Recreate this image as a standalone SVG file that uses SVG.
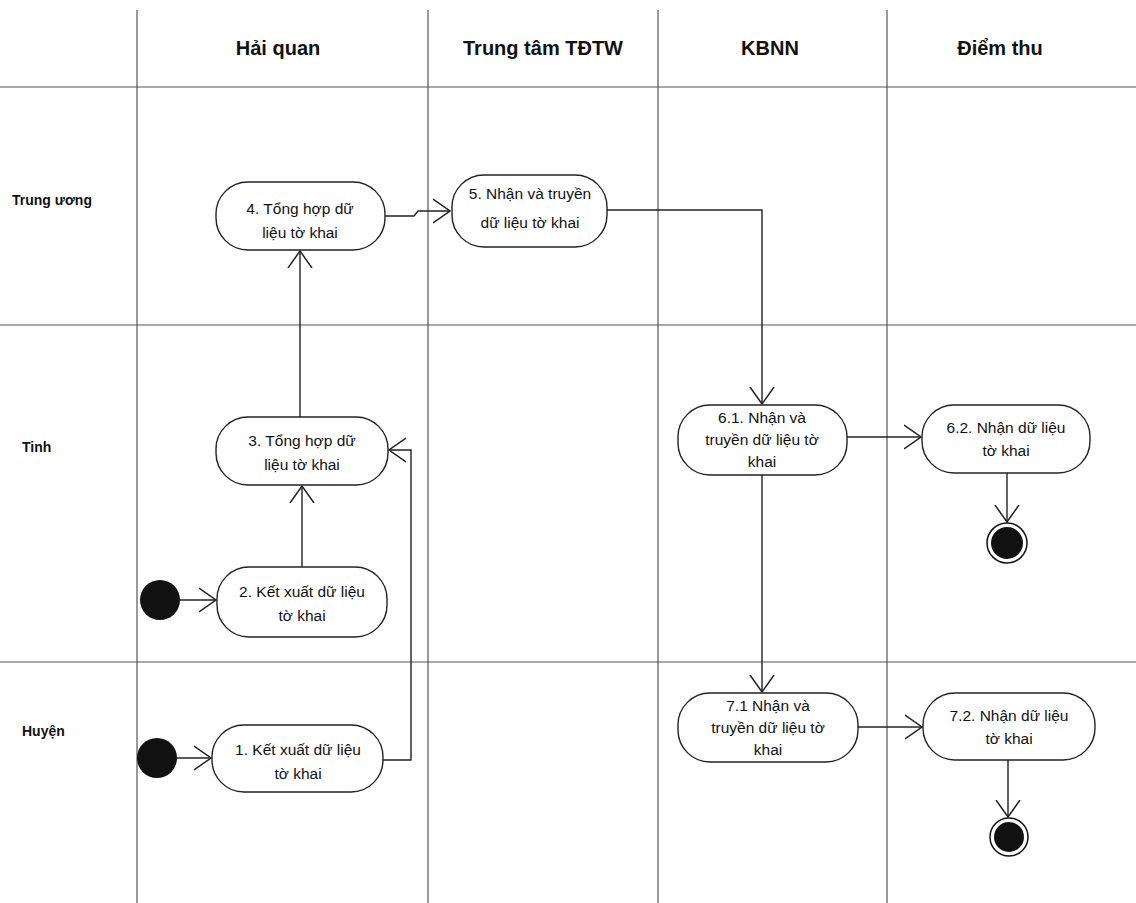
<svg xmlns="http://www.w3.org/2000/svg" width="1136" height="903" viewBox="0 0 1136 903">
<defs>
<style>
.lane{stroke:#555;stroke-width:1.2;fill:none}
.node rect{fill:#fff;stroke:#222;stroke-width:1.4}
.node text{font-family:"Liberation Sans",Arial,sans-serif;font-size:15.5px;fill:#111;text-anchor:middle}
.hdr{font-family:"Liberation Sans",Arial,sans-serif;font-size:20px;font-weight:bold;fill:#111;text-anchor:middle}
.row{font-family:"Liberation Sans",Arial,sans-serif;font-size:14px;font-weight:bold;fill:#111}
.conn path{fill:none;stroke:#222;stroke-width:1.4}
</style>
<marker id="arr" viewBox="0 0 18 26" refX="17" refY="13" markerWidth="18" markerHeight="26" markerUnits="userSpaceOnUse" orient="auto">
<path d="M0,1 L17,13 L0,25" fill="none" stroke="#222" stroke-width="1.5"/>
</marker>
</defs>
<rect width="1136" height="903" fill="#fff"/>
<g id="lanes">
<line class="lane" x1="137" y1="10" x2="137" y2="903"/>
<line class="lane" x1="428" y1="10" x2="428" y2="903"/>
<line class="lane" x1="658" y1="10" x2="658" y2="903"/>
<line class="lane" x1="887" y1="10" x2="887" y2="903"/>
<line class="lane" x1="0" y1="87" x2="1136" y2="87"/>
<line class="lane" x1="0" y1="325" x2="1136" y2="325"/>
<line class="lane" x1="0" y1="662" x2="1136" y2="662"/>
</g>
<g id="headers">
<text class="hdr" x="278" y="55">Hải quan</text>
<text class="hdr" x="543" y="55">Trung tâm TĐTW</text>
<text class="hdr" x="770" y="55">KBNN</text>
<text class="hdr" x="1000" y="55">Điểm thu</text>
<text class="row" x="12" y="205">Trung ương</text>
<text class="row" x="22" y="452">Tinh</text>
<text class="row" x="22" y="736">Huyện</text>
</g>
<g class="conn" id="connectors">
<path d="M385,216 H414 L418,211 H450" marker-end="url(#arr)"/>
<path d="M607,210 H762 V404" marker-end="url(#arr)"/>
<path d="M300,417 V251" marker-end="url(#arr)"/>
<path d="M302,567 V486" marker-end="url(#arr)"/>
<path d="M383,760 H411 V450 H389" marker-end="url(#arr)"/>
<path d="M180,600 H216" marker-end="url(#arr)"/>
<path d="M177,758 H211" marker-end="url(#arr)"/>
<path d="M847,437 H921" marker-end="url(#arr)"/>
<path d="M762,475 V692" marker-end="url(#arr)"/>
<path d="M1007,473 V522" marker-end="url(#arr)"/>
<path d="M858,727 H922" marker-end="url(#arr)"/>
<path d="M1008,760 V817" marker-end="url(#arr)"/>
</g>
<g id="start2"><circle cx="160" cy="600" r="20" fill="#111"/></g>
<g id="start1"><circle cx="157" cy="758" r="20" fill="#111"/></g>
<g id="end6"><circle cx="1007" cy="543" r="20" fill="#fff" stroke="#111" stroke-width="1.5"/><circle cx="1007" cy="543" r="16" fill="#111"/></g>
<g id="end7"><circle cx="1009" cy="837" r="19" fill="#fff" stroke="#111" stroke-width="1.5"/><circle cx="1009" cy="837" r="15" fill="#111"/></g>
<g class="node" id="n4"><rect x="216" y="182" width="169" height="68" rx="32"/><text x="300" y="214">4. Tổng hợp dữ</text><text x="300" y="238">liệu tờ khai</text></g>
<g class="node" id="n5"><rect x="452" y="175" width="155" height="72" rx="32"/><text x="530" y="199">5. Nhận và truyền</text><text x="530" y="228">dữ liệu tờ khai</text></g>
<g class="node" id="n3"><rect x="216" y="417" width="172" height="68" rx="32"/><text x="302" y="446">3. Tổng hợp dữ</text><text x="302" y="470">liệu tờ khai</text></g>
<g class="node" id="n2"><rect x="217" y="567" width="170" height="70" rx="32"/><text x="302" y="597">2. Kết xuất dữ liệu</text><text x="302" y="621">tờ khai</text></g>
<g class="node" id="n1"><rect x="212" y="725" width="171" height="67" rx="32"/><text x="298" y="755">1. Kết xuất dữ liệu</text><text x="298" y="779">tờ khai</text></g>
<g class="node" id="n61"><rect x="678" y="405" width="169" height="70" rx="32"/><text x="762" y="423">6.1. Nhận và</text><text x="762" y="445">truyền dữ liệu tờ</text><text x="762" y="467">khai</text></g>
<g class="node" id="n62"><rect x="922" y="405" width="168" height="68" rx="32"/><text x="1006" y="433">6.2. Nhận dữ liệu</text><text x="1006" y="456">tờ khai</text></g>
<g class="node" id="n71"><rect x="678" y="693" width="180" height="69" rx="32"/><text x="768" y="711">7.1  Nhận và</text><text x="768" y="733">truyền dữ liệu tờ</text><text x="768" y="755">khai</text></g>
<g class="node" id="n72"><rect x="923" y="693" width="172" height="67" rx="32"/><text x="1009" y="721">7.2. Nhận dữ liệu</text><text x="1009" y="744">tờ khai</text></g>
</svg>
